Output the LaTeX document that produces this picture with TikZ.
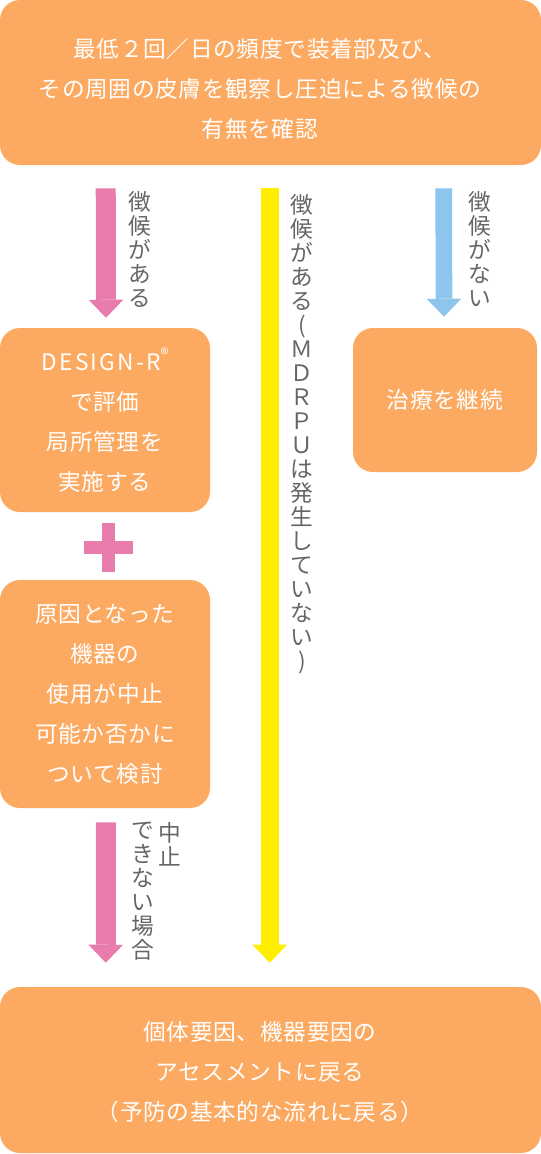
\documentclass[tikz,border=0pt]{standalone}
\usepackage{fontspec}
\setmainfont{Noto Sans CJK JP}
\newfontfamily\boxfont[LetterSpace=3]{Noto Sans CJK JP}
\usepackage{xcolor}
\usetikzlibrary{arrows.meta,positioning,calc}
\definecolor{boxorange}{HTML}{FCAA62}
\definecolor{flowpink}{HTML}{E87CAC}
\definecolor{flowyellow}{HTML}{FFEE00}
\definecolor{flowblue}{HTML}{8EC5EC}
\definecolor{labelgray}{HTML}{666666}
\newcommand{\regmark}{\raisebox{0.45em}{\fontsize{12pt}{12pt}\selectfont ®}}

\begin{document}
\begin{tikzpicture}[x=0.75pt, y=-0.75pt,
  boxtext/.style={text=white, inner sep=0pt, align=center,
    font=\boxfont\fontsize{17pt}{30pt}\selectfont},
  box/.style={boxtext, fill=boxorange, rounded corners=15pt},
  vlabel/.style={text=labelgray, inner sep=0pt, align=center,
    font=\fontsize{17pt}{18pt}\selectfont},
  flow/.style={line width=#1, -{Triangle[length=13.5pt, width=26pt, line width=0pt]}}]
  \useasboundingbox (0,0) rectangle (541,1154);
  % boxes, centres in px (y runs downwards)
  \node[box, minimum width=405.75pt, minimum height=123.75pt] (check) at (270.5,82.5) {};
  \node[boxtext] (checktext) at ($(check.center)+(-10.5,6)$)
    {最低２回／日の頻度で装着部及び、\\その周囲の皮膚を観察し圧迫による徴候の\\有無を確認};
  \node[box, minimum width=157.5pt, minimum height=138pt] (design) at (105,420)
    {{\addfontfeature{LetterSpace=10}DESIGN-R}\regmark\\で評価\\局所管理を\\実施する};
  \node[box, minimum width=157.5pt, minimum height=171pt] (judge) at (105,694)
    {原因となった\\機器の\\使用が中止\\可能か否かに\\ついて検討};
  \node[box, minimum width=138pt, minimum height=108pt] (cont) at (445,400) {治療を継続};
  \node[box, minimum width=405.75pt, minimum height=124.5pt] (back) at (270.5,1070) {};
  \node[boxtext] (backtext) at ($(back.center)+(-10.5,2.5)$)
    {個体要因、機器要因の\\アセスメントに戻る\\（予防の基本的な流れに戻る）};
  % plus between the two left boxes
  \fill[flowpink] (84,541) rectangle (133,554);
  \fill[flowpink] (102,523) rectangle (115,572);
  % block arrows
  \draw[flow=15pt, flowpink] ($(check.south west)+(106,23)$) -- ($(design.north)+(1,-10)$);
  \draw[flow=13.5pt, flowyellow] ($(check.south west)+(270,23)$) -- ($(back.north west)+(270,-24)$);
  \draw[flow=12.5pt, flowblue] ($(check.south west)+(444,23)$) -- ($(cont.north)+(-1,-11)$);
  \draw[flow=15pt, flowpink] ($(judge.south)+(1,14)$) -- ($(back.north west)+(106,-24)$);
  % vertical labels
  \node[vlabel, anchor=north] (lhas) at (140,191) {徴\\候\\が\\あ\\る};
  \node[vlabel, anchor=north] (lmdrpu) at (302,194)
    {徴\\候\\が\\あ\\る\\(\\Ｍ\\Ｄ\\Ｒ\\Ｐ\\Ｕ\\は\\発\\生\\し\\て\\い\\な\\い\\)};
  \node[vlabel, anchor=north] (lnone) at (480,191) {徴\\候\\が\\な\\い};
  \node[vlabel, anchor=north] (lstop) at (170,822) {中\\止};
  \node[vlabel, anchor=north] (lcannot) at (143,822) {で\\き\\な\\い\\場\\合};
\end{tikzpicture}
\end{document}
